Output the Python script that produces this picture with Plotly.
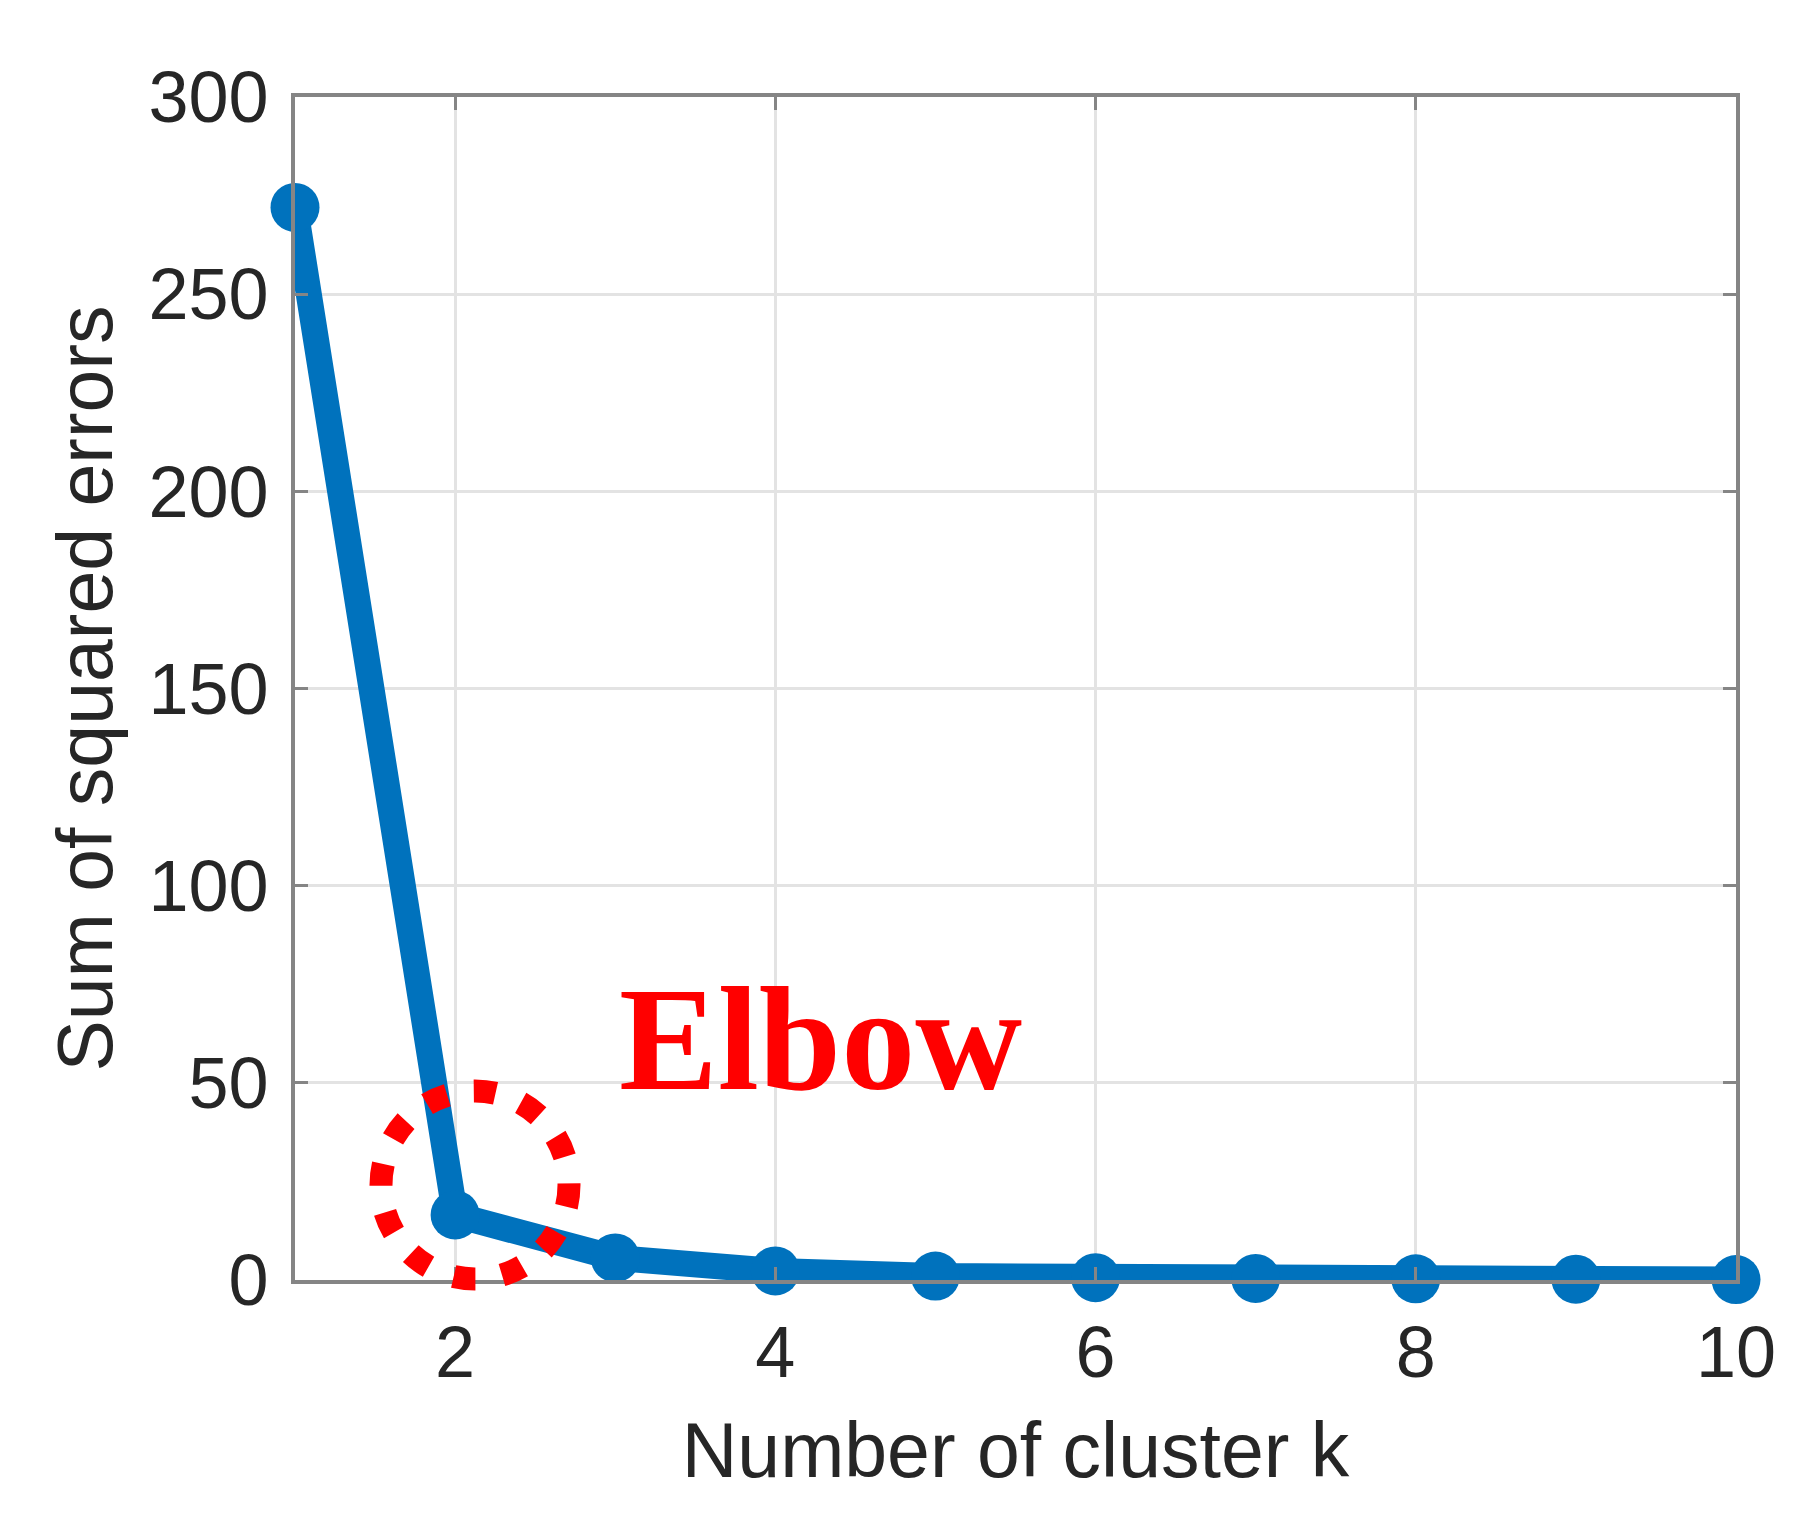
import plotly.graph_objects as go

k_values = [1, 2, 3, 4, 5, 6, 7, 8, 9, 10]
sse_values = [272, 16.5, 5.6, 2.3, 1.0, 0.6, 0.4, 0.3, 0.2, 0.1]
x_ticks = [2, 4, 6, 8, 10]
y_ticks = [0, 50, 100, 150, 200, 250, 300]
x_title = "Number of cluster k"
y_title = "Sum of squared errors"
note_text = "Elbow"

BLUE = "#0072BD"
AXIS = "#858585"
TXT = "#262626"
FONT = "Liberation Sans, Arial, sans-serif"

# plot area in pixels (figure 1803 x 1518)
L, R, T, B = 287, 75, 89, 246
PW, PH = 1803 - L - R, 1518 - T - B

fig = go.Figure()
fig.add_trace(go.Scatter(
    x=k_values, y=sse_values, mode="lines+markers",
    line=dict(color=BLUE, width=26),
    marker=dict(color=BLUE, size=49),
    cliponaxis=False, showlegend=False,
))

# dotted red circle around the elbow point (paper coords so it is not clipped)
cx0, cx1, cy_top, cy_bot = 373, 561, 1083, 1271
fig.add_shape(type="circle", xref="paper", yref="paper",
              x0=(cx0 - L) / PW, x1=(cx1 - L) / PW,
              y0=(1518 - B - cy_bot) / PH, y1=(1518 - B - cy_top) / PH,
              line=dict(color="#ff0000", width=23, dash="22px,27px"),
              layer="above")

fig.add_annotation(x=4.28, y=39.8, xref="x", yref="y", text="<b>" + note_text + "</b>",
                   showarrow=False, yanchor="bottom", xanchor="center",
                   font=dict(family="Liberation Serif, Times New Roman, serif", size=148, color="#ff0000"))

axis_common = dict(
    showline=True, linecolor=AXIS, linewidth=4, mirror="ticks",
    ticks="inside", ticklen=13, tickwidth=3, tickcolor=AXIS,
    showgrid=True, gridcolor="#e3e3e3", gridwidth=3,
    zeroline=False,
    tickfont=dict(family=FONT, size=72, color=TXT),
)

fig.update_xaxes(range=[1, 10], tickvals=x_ticks, ticktext=[str(v) for v in x_ticks],
                 title=dict(text=x_title, font=dict(family=FONT, size=77, color=TXT), standoff=33),
                 ticklabelstandoff=7, **axis_common)
fig.update_yaxes(range=[0, 300], tickvals=y_ticks, ticktext=[str(v) for v in y_ticks],
                 title=dict(text=y_title, font=dict(family=FONT, size=77, color=TXT), standoff=12),
                 ticklabelstandoff=8, **axis_common)

fig.update_layout(
    width=1803, height=1518,
    margin=dict(l=L, r=R, t=T, b=B),
    plot_bgcolor="white", paper_bgcolor="white",
)

fig.write_html("out.html")
